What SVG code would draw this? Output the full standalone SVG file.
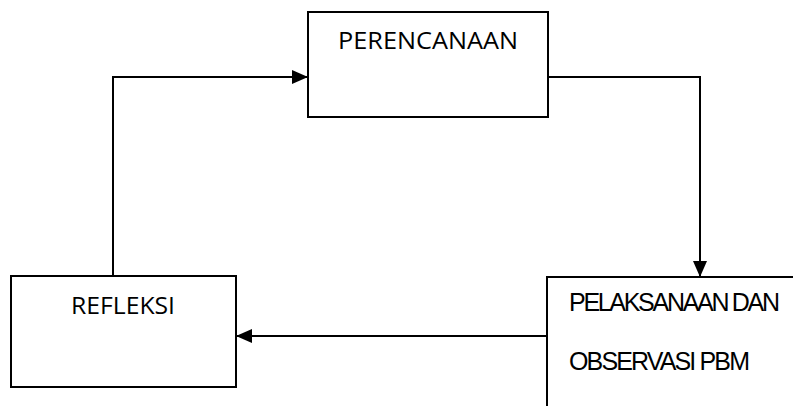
<svg xmlns="http://www.w3.org/2000/svg" width="793" height="406" viewBox="0 0 793 406">
  <style>
    .box { fill: #ffffff; stroke: #000000; stroke-width: 2; }
    .link { fill: none; stroke: #000000; stroke-width: 2; }
    .lbl { font-family: "Open Sans", "Noto Sans", sans-serif; font-size: 23px; fill: #000000; }
    .lbl2 { font-family: "Liberation Sans", Arial, sans-serif; font-size: 25px; fill: #000000; }
  </style>
  <defs>
    <marker id="arrow" viewBox="0 0 16 14" refX="16" refY="7" markerWidth="16" markerHeight="14" markerUnits="userSpaceOnUse" orient="auto">
      <path d="M0,0 L16,7 L0,14 Z" fill="#000000"/>
    </marker>
  </defs>
  <rect width="793" height="406" fill="#ffffff"/>

  <g id="perencanaan">
    <rect class="box" x="308" y="12" width="240" height="105"/>
    <text class="lbl" x="338" y="49" textLength="180" lengthAdjust="spacingAndGlyphs">PERENCANAAN</text>
  </g>

  <g id="pelaksanaan">
    <rect class="box" x="547" y="277" width="260" height="140"/>
    <text class="lbl2" x="569" y="311" textLength="211" lengthAdjust="spacing">PELAKSANAAN DAN</text>
    <text class="lbl2" x="569" y="370" textLength="181" lengthAdjust="spacing">OBSERVASI PBM</text>
  </g>

  <g id="refleksi">
    <rect class="box" x="11" y="276" width="225" height="111"/>
    <text class="lbl" x="71" y="314" textLength="104" lengthAdjust="spacingAndGlyphs">REFLEKSI</text>
  </g>

  <g id="connectors">
    <polyline class="link" points="548,77 700,77 700,277" marker-end="url(#arrow)"/>
    <line class="link" x1="547" y1="336" x2="236" y2="336" marker-end="url(#arrow)"/>
    <polyline class="link" points="113,276 113,77 308,77" marker-end="url(#arrow)"/>
  </g>
</svg>
